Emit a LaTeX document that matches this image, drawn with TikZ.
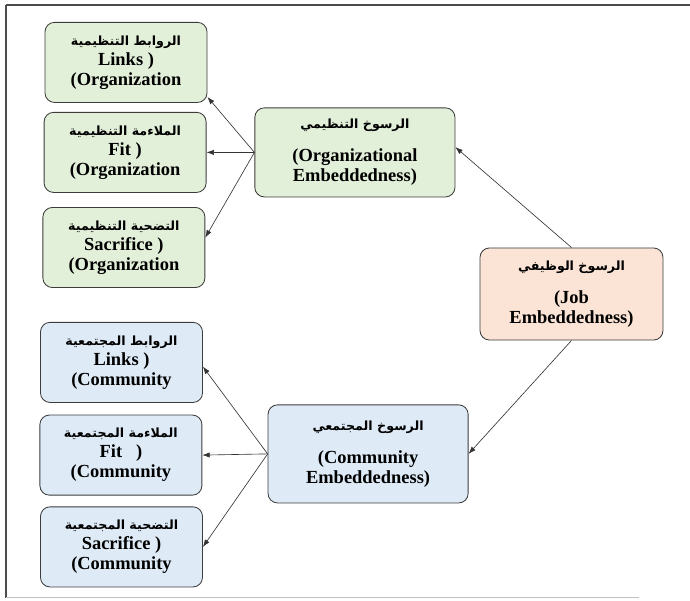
\documentclass[tikz,border=0pt]{standalone}
\usepackage{fontspec}
\setmainfont{Liberation Serif}
\newfontfamily\arabicfont[Script=Arabic]{DejaVu Sans}
\TeXXeTstate=1
\usetikzlibrary{arrows.meta,positioning}
\definecolor{orggreen}{RGB}{226,239,217}
\definecolor{comblue}{RGB}{222,235,247}
\definecolor{jobpeach}{RGB}{251,228,213}
\definecolor{boxline}{RGB}{60,60,60}
\newcommand{\ar}[1]{{\arabicfont\fontsize{12}{14}\selectfont\bfseries\beginR #1\endR}}

\tikzset{
  box/.style={draw=boxline, thick, rounded corners=9pt, align=center,
    font=\fontsize{17.5}{19}\selectfont\bfseries, inner sep=0pt},
  leaf/.style={box, minimum width=5.4cm, minimum height=2.67cm},
  orgbox/.style={leaf, fill=orggreen},
  combox/.style={leaf, fill=comblue},
  arr/.style={-{Latex[length=7pt,width=5pt]}, draw=black!80, semithick}
}

\begin{document}
\begin{tikzpicture}
  \useasboundingbox (0,0) rectangle (23,-20.033);

  % frame
  \draw[black!70, line width=1.2pt] (0.2,-0.17) -- (23,-0.17);
  \draw[black!70, line width=1pt] (0.2,-0.17) -- (0.2,-19.93);
  \draw[black!25, line width=1pt] (0.2,-19.93) -- (21.3,-19.93);

  % organization side
  \node[orgbox] (ol) at (4.2,-2.08) {\ar{الروابط التنظيمية}\\ Links )\\ (Organization};
  \node[orgbox] (of) at (4.17,-5.08) {\ar{الملاءمة التنظيمية}\\ Fit )\\ (Organization};
  \node[orgbox] (os) at (4.13,-8.25) {\ar{التضحية التنظيمية}\\ Sacrifice )\\ (Organization};
  \node[box, fill=orggreen, minimum width=6.67cm, minimum height=2.97cm] (oe) at (11.83,-5.08)
    {\ar{الرسوخ التنظيمي}\\[12pt] (Organizational\\ Embeddedness)};

  % job
  \node[box, fill=jobpeach, minimum width=6.1cm, minimum height=3.07cm] (job) at (19.05,-9.8)
    {\ar{الرسوخ الوظيفي}\\[12pt] (Job\\ Embeddedness)};

  % community side
  \node[combox] (cl) at (4.05,-12.08) {\ar{الروابط المجتمعية}\\ Links )\\ (Community};
  \node[combox] (cf) at (4.03,-15.17) {\ar{الملاءمة المجتمعية}\\ Fit \ \ )\\ (Community};
  \node[combox] (cs) at (4.05,-18.23) {\ar{التضحية المجتمعية}\\ Sacrifice )\\ (Community};
  \node[box, fill=comblue, minimum width=6.67cm, minimum height=3.27cm] (ce) at (12.27,-15.13)
    {\ar{الرسوخ المجتمعي}\\[12pt] (Community\\ Embeddedness)};

  \draw[arr] (job.north) -- (oe.3);
  \draw[arr] (job.south) -- (ce.east);
  \draw[arr] (oe.west) -- (ol.-23);
  \draw[arr] (oe.west) -- (of.east);
  \draw[arr] (oe.west) -- (os.7);
  \draw[arr] (ce.west) -- (cl.-3);
  \draw[arr] (ce.west) -- (cf.east);
  \draw[arr] (ce.west) -- (cs.east);
\end{tikzpicture}
\end{document}
